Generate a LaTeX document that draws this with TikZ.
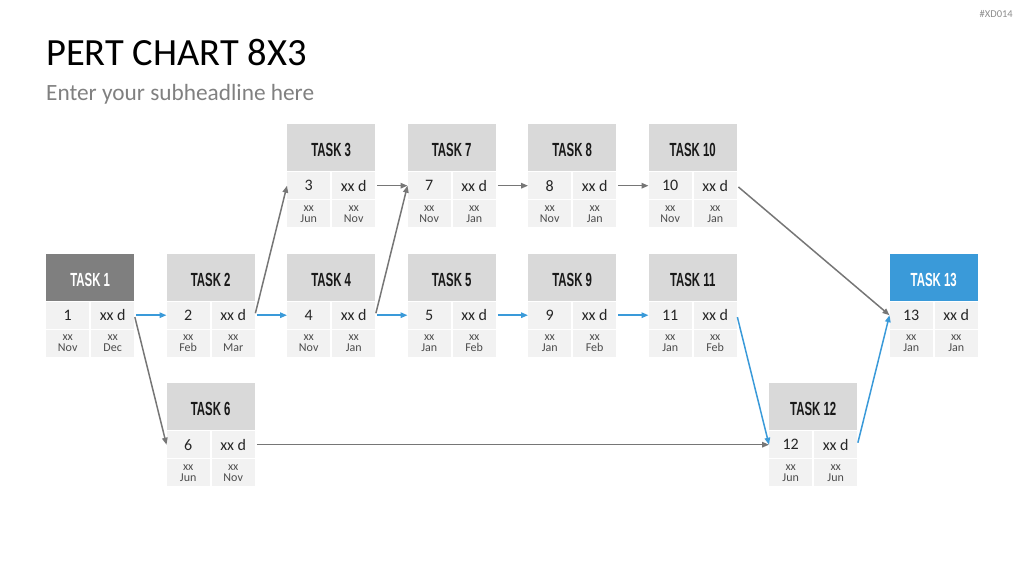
\documentclass[tikz,border=0pt]{standalone}
\usepackage{fontspec}
\setmainfont{Carlito}
\newfontfamily\headfont{Liberation Sans}[FakeStretch=0.6]
\usetikzlibrary{arrows.meta}

\definecolor{hdlight}{HTML}{D9D9D9}
\definecolor{hddark}{HTML}{7F7F7F}
\definecolor{hdblue}{HTML}{3A9AD9}
\definecolor{cellgray}{HTML}{F2F2F2}
\definecolor{linkgray}{HTML}{767676}
\definecolor{linkblue}{HTML}{3A9AD9}

\tikzset{
  header/.style={anchor=north west, minimum width=88pt, minimum height=47pt,
    inner sep=0pt, text height=18pt, text depth=0pt,
    font=\headfont\bfseries\fontsize{19}{19}\selectfont},
  plainhead/.style={fill=hdlight, text=black!90},
  starthead/.style={fill=hddark, text=white},
  endhead/.style={fill=hdblue, text=white},
  cell/.style={anchor=north west, fill=cellgray, minimum width=43pt,
    minimum height=27pt, inner sep=0pt, text=black!85,
    font=\fontsize{16}{16}\selectfont},
  datecell/.style={cell, text=black!70, align=center,
    font=\fontsize{12}{11}\selectfont},
  link/.style={-{Triangle[length=7pt,width=5.5pt]}, line width=1.5pt,
    shorten <=2pt, color=linkgray},
  critical/.style={link, color=linkblue},
}

\begin{document}
\begin{tikzpicture}[x=1pt, y=-1pt]
    \useasboundingbox (0,0) rectangle (1024,576);

    % titles
    \node[anchor=base west, inner sep=0pt, font=\fontsize{38.5}{38.5}\selectfont]
        (title) at (46,65) {PERT CHART 8X3};
    \node[anchor=base west, inner sep=0pt, text=black!50, font=\fontsize{23.3}{23.3}\selectfont]
        (subtitle) at (46,100) {Enter your subheadline here};
    \node[anchor=east, inner sep=0pt, text=black!45, font=\fontsize{10.5}{10.5}\selectfont]
        (code) at (1013,14) {\#XD014};

    % task boxes: number / column / row / start / end / header style
    \foreach \n/\c/\r/\s/\e/\h in {
        1/0/1/Nov/Dec/starthead, 2/1/1/Feb/Mar/plainhead,
        3/2/0/Jun/Nov/plainhead, 4/2/1/Nov/Jan/plainhead,
        5/3/1/Jan/Feb/plainhead, 6/1/2/Jun/Nov/plainhead,
        7/3/0/Nov/Jan/plainhead, 8/4/0/Nov/Jan/plainhead,
        9/4/1/Jan/Feb/plainhead, 10/5/0/Nov/Jan/plainhead,
        11/5/1/Jan/Feb/plainhead, 12/6/2/Jun/Jun/plainhead,
        13/7/1/Jan/Jan/endhead} {
        \pgfmathsetmacro\bx{46+120.5*\c}
        \pgfmathsetmacro\by{124+129.5*\r}
        \node[header, \h] (t\n) at (\bx,\by) {TASK \n};
        \node[cell] (t\n n) at (\bx,\by+48) {\n};
        \node[cell] (t\n d) at (\bx+45,\by+48) {xx d};
        \node[datecell] (t\n s) at (\bx,\by+76) {xx\\\s};
        \node[datecell] (t\n e) at (\bx+45,\by+76) {xx\\\e};
    }

    % dependencies
    \foreach \a/\b in {1/6, 2/3, 3/7, 4/7, 7/8, 8/10, 10/13, 6/12}
        \draw[link] (t\a d.east) -- (t\b n.west);
    \foreach \a/\b in {1/2, 2/4, 4/5, 5/9, 9/11, 11/12, 12/13}
        \draw[critical] (t\a d.east) -- (t\b n.west);
\end{tikzpicture}
\end{document}
